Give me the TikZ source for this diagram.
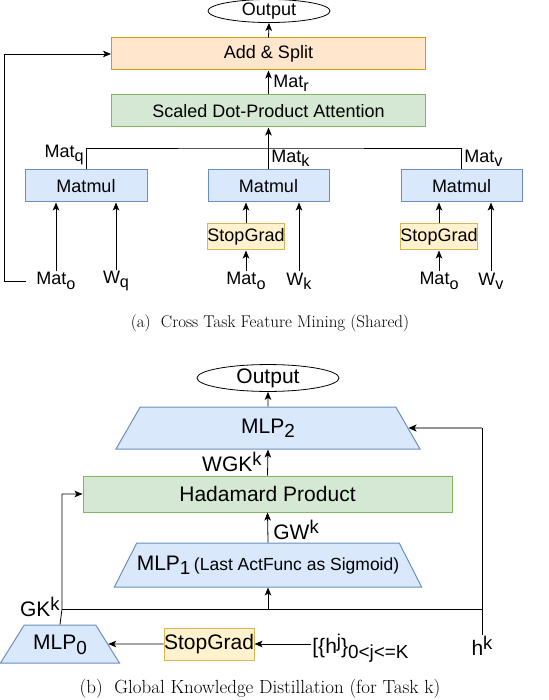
\documentclass[tikz,border=0pt]{standalone}
\usepackage{fontspec}
\usepackage{tikz}
\usetikzlibrary{arrows.meta,calc,positioning,shapes.geometric}
\newfontfamily\diafont{Liberation Sans}
\newcommand\dsub[1]{\raisebox{-0.45ex}{\scalebox{0.9}{#1}}}
\newcommand\dsup[1]{\raisebox{0.55ex}{\scalebox{0.88}{#1}}}
\definecolor{bluefill}{HTML}{DAE8FC}
\definecolor{bluedraw}{HTML}{6C8EBF}
\definecolor{grnfill}{HTML}{D5E8D4}
\definecolor{grndraw}{HTML}{82B366}
\definecolor{orgfill}{HTML}{FFE6CC}
\definecolor{orgdraw}{HTML}{D79B00}
\definecolor{ylwfill}{HTML}{FFF2CC}
\definecolor{ylwdraw}{HTML}{D6B656}
\tikzset{
  fa/.style={font=\diafont\fontsize{18}{20}\selectfont},
  fb/.style={font=\diafont\fontsize{21}{23}\selectfont},
  boxa/.style={fa,rectangle,inner sep=0pt,minimum height=32pt,line width=1pt},
  mmbox/.style={boxa,draw=bluedraw,fill=bluefill},
  grnbox/.style={draw=grndraw,fill=grnfill,rectangle,inner sep=0pt,line width=1pt},
  orgbox/.style={boxa,draw=orgdraw,fill=orgfill},
  sgbox/.style={draw=ylwdraw,fill=ylwfill,rectangle,inner sep=0pt,line width=1pt},
  mlpbox/.style={fb,trapezium,trapezium stretches body,draw=bluedraw,fill=bluefill,
    inner xsep=0pt,text height=15pt,text depth=5pt,line width=1pt},
  outell/.style={ellipse,draw=black,fill=white,inner sep=0pt,line width=0.8pt},
  lbl/.style={inner sep=1pt},
  captxt/.style={font=\fontsize{17}{19}\selectfont},
}
\begin{document}
\begin{tikzpicture}[x=1pt,y=-1pt,line width=0.8pt,
    >={Stealth[length=8pt,width=6.5pt,inset=2pt]}]
  \useasboundingbox (0,0) rectangle (548,700);
  % ============ (a) Cross Task Feature Mining ============
  \node[outell,fa,minimum width=122pt,minimum height=20pt] (outa) at (269,11) {Output};
  \node[orgbox,minimum width=314pt] (add) at (268.5,54) {Add \& Split};
  \node[boxa,draw=grndraw,fill=grnfill,minimum width=314pt] (sdpa) at (268.5,111)
    {Scaled Dot-Product Attention};
  \node[mmbox,minimum width=122pt] (mmq) at (86,186) {Matmul};
  \node[mmbox,minimum width=121pt] (mmk) at (268.5,186) {Matmul};
  \node[mmbox,minimum width=121pt] (mmv) at (461.5,186) {Matmul};
  \node[sgbox,fa,minimum width=76pt,minimum height=26pt] (sgk) at (246,237) {StopGrad};
  \node[sgbox,fa,minimum width=76pt,minimum height=26pt] (sgv) at (439,237) {StopGrad};
  % inputs
  \node[fa,lbl] (moq) at (56,281) {Mat\dsub{o}};
  \node[fa,lbl] (wq)  at (116,281) {W\dsub{q}};
  \node[fa,lbl] (mok) at (246,281) {Mat\dsub{o}};
  \node[fa,lbl] (wk)  at (299,281) {W\dsub{k}};
  \node[fa,lbl] (mov) at (439,281) {Mat\dsub{o}};
  \node[fa,lbl] (wv)  at (491,281) {W\dsub{v}};
  \draw[->] (moq.north) -- (moq.north |- mmq.south);
  \draw[->] (wq.north) -- (wq.north |- mmq.south);
  \draw[->] (mok.north) -- (sgk.south);
  \draw[->] (sgk.north) -- (sgk.north |- mmk.south);
  \draw[->] (wk.north) -- (wk.north |- mmk.south);
  \draw[->] (mov.north) -- (sgv.south);
  \draw[->] (sgv.north) -- (sgv.north |- mmv.south);
  \draw[->] (wv.north) -- (wv.north |- mmv.south);
  % residual
  \draw[->] ([xshift=-9pt]moq.west) -- ++(-22,0) |- (add.west);
  % q k v to attention
  \coordinate (join) at (268.5,148);
  \draw (mmq.north) |- (join) -| (mmv.north);
  \draw (mmk.north) -- (join);
  \draw[->] (join) -- (sdpa.south);
  \draw[->] (sdpa.north) -- (add.south);
  \draw[->] (add.north) -- (outa.south);
  \node[fa,lbl,anchor=east] at (85,155) {Mat\dsub{q}};
  \node[fa,lbl,anchor=west] at (270,158) {Mat\dsub{k}};
  \node[fa,lbl,anchor=west] at (463,158) {Mat\dsub{v}};
  \node[fa,lbl,anchor=west] at (272,83) {Mat\dsub{r}};
  \node[captxt] (capa) at (270,323) {(a)\ \ Cross Task Feature Mining (Shared)};
  % ============ (b) Global Knowledge Distillation ============
  \node[outell,fb,minimum width=142pt,minimum height=26pt] (outb) at (268,378) {Output};
  \node[mlpbox,trapezium angle=60,inner ysep=11pt,minimum width=304pt] (mlp2)
    at (268,428) {MLP\dsub{2}};
  \node[grnbox,fb,minimum width=369pt,minimum height=36pt] (had) at (267.5,494)
    {Hadamard Product};
  \node[mlpbox,trapezium angle=63,inner ysep=12pt,minimum width=304pt] (mlp1)
    at (268,565) {MLP\dsub{1}\,{\fontsize{17.5}{19}\selectfont(Last ActFunc as Sigmoid)}};
  \node[mlpbox,trapezium angle=58,inner ysep=9pt,minimum width=119pt] (mlp0)
    at (60,644) {MLP\dsub{0}};
  \node[sgbox,fb,minimum width=90pt,minimum height=32pt] (sgb) at (209,644) {StopGrad};
  \node[fb,lbl,anchor=west] (hj) at (311,648) {[\{h\dsup{j}\}\dsub{0<j<=K}};
  \node[fb,lbl] (hk) at (482,646) {h\dsup{k}};
  \draw[->] (sgb.east -| hj.west) -- (sgb.east);
  \draw[->] (sgb.west) -- (mlp0.east);
  \draw (hk.north) -- (hk.north |- mlp2.east) coordinate (hkc);
  \draw[->,draw=gray!85,line width=2pt,>={Stealth[length=8pt,width=7pt,inset=2pt,color=black]}]
    (hkc) -- (mlp2.east);
  \coordinate (gk) at (62,609);
  \draw (gk) -- (gk -| hk.north);
  \draw[->] (mlp0.north) -- (gk) |- (had.west);
  \draw[->] (mlp1.south |- gk) -- (mlp1.south);
  \draw[->] (mlp1.north) -- (had.south);
  \draw[->] (had.north) -- (mlp2.south);
  \draw[->] (mlp2.north) -- (outb.south);
  \node[fb,lbl,anchor=east] at (61,607) {GK\dsup{k}};
  \node[fb,lbl,anchor=east] at (263,462) {WGK\dsup{k}};
  \node[fb,lbl,anchor=west] at (272,530) {GW\dsup{k}};
  \node[captxt,font=\fontsize{19}{21}\selectfont] (capb) at (260,689)
    {(b)\ \ Global Knowledge Distillation (for Task k)};
\end{tikzpicture}
\end{document}
